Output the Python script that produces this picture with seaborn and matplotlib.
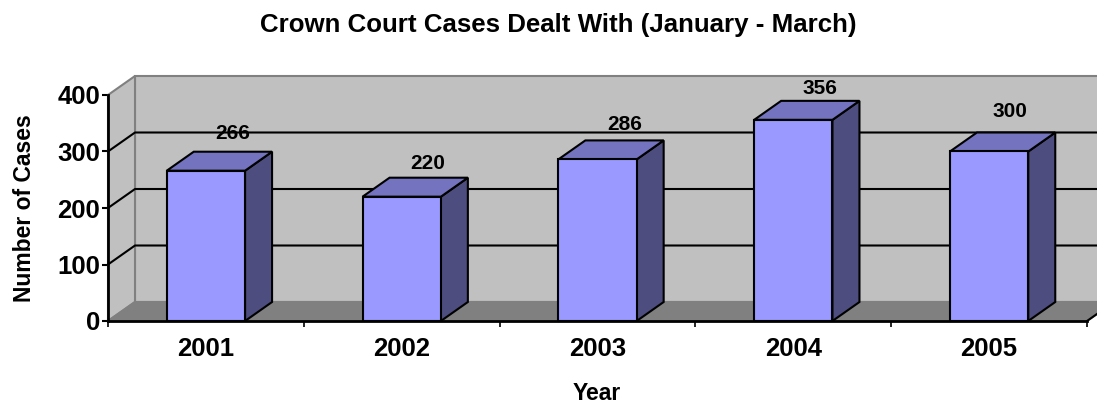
import matplotlib
matplotlib.use("Agg")
import matplotlib.pyplot as plt
import seaborn as sns
from matplotlib.patches import Polygon

years = ["2001", "2002", "2003", "2004", "2005"]
cases = [266, 220, 286, 356, 300]
y_ticks = [0, 100, 200, 300, 400]
# nudges for the value labels, in points
label_dx = [0, -0.5, 0, 0, -4.5]
label_dy = [13, 10, 11.5, 9, 15]

sns.set_style("white")
plt.rcParams["font.family"] = ["Liberation Sans", "DejaVu Sans"]
plt.rcParams["font.weight"] = "bold"
plt.rcParams["text.color"] = "black"
plt.rcParams["xtick.labelcolor"] = "black"
plt.rcParams["ytick.labelcolor"] = "black"

W, H = 1097, 403
fig = plt.figure(figsize=(W / 100, H / 100), dpi=100)
ax = fig.add_axes([108 / W, (H - 321) / H, 979 / W, 226 / H])
ax.patch.set_visible(False)

# 3d look: depth of the box in data units
dx = 27 / 195.8
dy = 19 / 0.565
lw = 1.5

sns.barplot(x=years, y=cases, ax=ax, width=0.4, color="#9999FF", saturation=1,
            edgecolor="black", linewidth=lw, zorder=3)
ax.set_xlim(-0.5, 4.5)
ax.set_ylim(0, 400)

x0, x1 = -0.5, 4.5
# walls and floor
ax.add_patch(Polygon([(x0 + dx, dy), (x1 + dx, dy), (x1 + dx, 400 + dy), (x0 + dx, 400 + dy)],
                     fc="#C0C0C0", ec="#808080", lw=lw, zorder=0.5, clip_on=False))
ax.add_patch(Polygon([(x0, 0), (x0 + dx, dy), (x0 + dx, 400 + dy), (x0, 400)],
                     fc="#C0C0C0", ec="#808080", lw=lw, zorder=0.6, clip_on=False))
ax.add_patch(Polygon([(x0, 0), (x1, 0), (x1 + dx, dy), (x0 + dx, dy)],
                     fc="#808080", ec="#808080", lw=lw, zorder=0.7, clip_on=False))

# gridlines run along side wall then back wall
for t in y_ticks[1:-1]:
    ax.plot([x0, x0 + dx, x1 + dx], [t, t + dy, t + dy], color="black", lw=lw,
            zorder=1, clip_on=False)

# side and top faces from each bar
for bar, v in zip(ax.patches, cases):
    if bar.get_zorder() != 3:
        continue
    l = bar.get_x()
    r = l + bar.get_width()
    ax.add_patch(Polygon([(r, 0), (r + dx, dy), (r + dx, v + dy), (r, v)],
                         fc="#4D4D80", ec="black", lw=lw, zorder=2, clip_on=False))
    ax.add_patch(Polygon([(l, v), (r, v), (r + dx, v + dy), (l + dx, v + dy)],
                         fc="#7373BF", ec="black", lw=lw, zorder=2, clip_on=False))

for i, v in enumerate(cases):
    ax.annotate(str(v), (i + dx, v + dy), xytext=(label_dx[i], label_dy[i]),
                textcoords="offset points", ha="center", va="center", fontsize=15,
                fontweight="bold", color="black", zorder=6, annotation_clip=False)

sns.despine(ax=ax, top=True, right=True)
for s in ["left", "bottom"]:
    ax.spines[s].set_color("black")
    ax.spines[s].set_linewidth(2)
    ax.spines[s].set_zorder(5)

ax.set_yticks(y_ticks)
ax.tick_params(axis="y", length=4, width=lw, color="black", labelsize=18.5, pad=1.5, left=True)
ax.set_xticks(range(len(years)))
ax.set_xticklabels(years, fontsize=18.5, fontweight="bold")
ax.set_xticks([x0 + i for i in range(len(years) + 1)], minor=True)
ax.tick_params(axis="x", which="major", length=0, labelsize=18.5, pad=11.5)
ax.tick_params(axis="x", which="minor", length=4, width=1.2, color="black", bottom=True)
for lab in ax.get_yticklabels():
    lab.set_fontweight("bold")

# end of floor edge, right side
ax.plot([x1, x1 + dx], [0, dy], color="black", lw=lw, zorder=5, clip_on=False)

fig.text(558 / W, 1 - 25 / H, "Crown Court Cases Dealt With (January - March)",
         ha="center", va="center", fontsize=18.6, fontweight="bold")
fig.text(25 / W, 1 - 208 / H, "Number of Cases", rotation=90, ha="center", va="center",
         fontsize=16.5, fontweight="bold")
fig.text(597 / W, 1 - 393 / H, "Year", ha="center", va="center", fontsize=16.5, fontweight="bold")

fig.savefig("out.png", dpi=100)
